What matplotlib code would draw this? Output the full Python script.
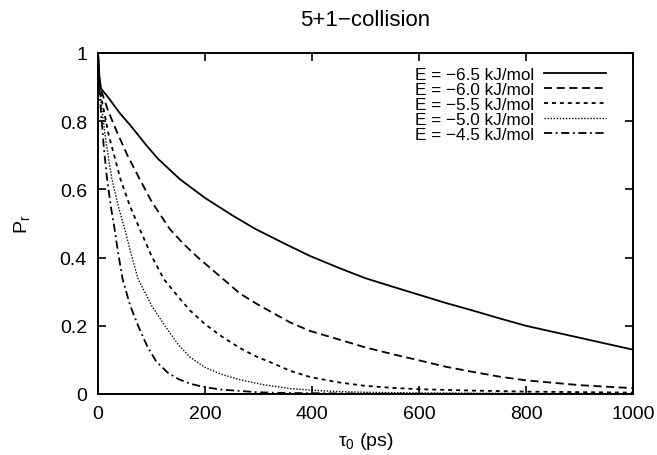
import matplotlib
matplotlib.use("Agg")
import matplotlib.pyplot as plt

plt.rcParams['font.family'] = ['Liberation Sans', 'DejaVu Sans']
plt.rcParams['mathtext.fontset'] = 'custom'
plt.rcParams['mathtext.rm'] = 'Liberation Sans'
plt.rcParams['mathtext.it'] = 'Liberation Sans:italic'

# tau_0 (ps) and P_r for each energy
x_65 = [0, 3, 6, 19, 40, 62, 90, 112, 153, 200, 250, 293, 350, 396, 450, 499, 550, 602, 650, 700, 750, 800, 900, 1000]
p_65 = [1.0, 0.92, 0.895, 0.87, 0.825, 0.785, 0.73, 0.69, 0.63, 0.575, 0.525, 0.485, 0.44, 0.405, 0.37, 0.34, 0.315, 0.29, 0.267, 0.245, 0.222, 0.20, 0.165, 0.13]

x_60 = [0, 3, 6, 19, 35, 55, 78, 100, 134, 160, 187, 234, 265, 297, 330, 359, 396, 450, 499, 550, 602, 650, 700, 750, 800, 900, 1000]
p_60 = [1.0, 0.92, 0.89, 0.83, 0.77, 0.70, 0.63, 0.565, 0.484, 0.44, 0.40, 0.337, 0.295, 0.264, 0.235, 0.21, 0.185, 0.16, 0.137, 0.117, 0.098, 0.08, 0.065, 0.051, 0.04, 0.026, 0.017]

x_55 = [0, 3, 6, 20, 42, 60, 78, 100, 123, 150, 172, 200, 230, 265, 293, 330, 359, 396, 450, 499, 550, 602, 700, 800, 1000]
p_55 = [1.0, 0.91, 0.87, 0.76, 0.63, 0.55, 0.484, 0.405, 0.337, 0.285, 0.245, 0.205, 0.17, 0.135, 0.112, 0.088, 0.068, 0.05, 0.034, 0.024, 0.018, 0.014, 0.01, 0.007, 0.004]

x_50 = [0, 3, 6, 15, 26, 38, 50, 62, 75, 100, 125, 150, 172, 200, 230, 265, 310, 359, 400, 450, 500, 600, 800, 1000]
p_50 = [1.0, 0.90, 0.85, 0.74, 0.63, 0.55, 0.484, 0.41, 0.337, 0.26, 0.20, 0.145, 0.108, 0.078, 0.058, 0.042, 0.027, 0.016, 0.011, 0.007, 0.005, 0.003, 0.0015, 0.001]

x_45 = [0, 3, 6, 11, 17, 24, 31, 38, 46, 60, 75, 92, 109, 130, 150, 172, 200, 230, 265, 300, 350, 500, 1000]
p_45 = [1.0, 0.88, 0.82, 0.72, 0.63, 0.55, 0.484, 0.41, 0.337, 0.26, 0.20, 0.14, 0.095, 0.063, 0.044, 0.03, 0.02, 0.013, 0.009, 0.005, 0.003, 0.001, 0.0]

labels = ['E = \u22126.5 kJ/mol', 'E = \u22126.0 kJ/mol', 'E = \u22125.5 kJ/mol',
          'E = \u22125.0 kJ/mol', 'E = \u22124.5 kJ/mol']
x_ticks = [0, 200, 400, 600, 800, 1000]
y_ticks = [0, 0.2, 0.4, 0.6, 0.8, 1]
y_ticklabels = ['0', '0.2', '0.4', '0.6', '0.8', '1']

fig = plt.figure(figsize=(6.57, 4.56), dpi=100)
ax = fig.add_axes([98/657, 1-395/456, (633-98)/657, (395-54)/456])

lw = 1.3
ax.plot(x_65, p_65, color='black', lw=lw, ls='-', label=labels[0])
ax.plot(x_60, p_60, color='black', lw=lw, ls=(0, (4.5, 2.5)), label=labels[1])
ax.plot(x_55, p_55, color='black', lw=lw, ls=(0, (2.2, 2.2)), label=labels[2])
ax.plot(x_50, p_50, color='black', lw=1.0, ls=(0, (1, 1.2)), label=labels[3])
ax.plot(x_45, p_45, color='black', lw=lw, ls=(0, (4.5, 2, 1, 2)), label=labels[4])

ax.set_xlim(0, 1000)
ax.set_ylim(0, 1)
ax.set_xticks(x_ticks)
ax.set_yticks(y_ticks)
ax.set_yticklabels(y_ticklabels)
ax.tick_params(direction='in', length=6, width=1.2, top=True, right=True,
               labelsize=14, pad=8)
for s in ax.spines.values():
    s.set_linewidth(1.4)

ax.set_title('5+1\u2212collision', fontsize=16, pad=20)
ax.set_xlabel(r'$\mathregular{\tau_0}$ (ps)', fontsize=14, labelpad=6)
ax.set_ylabel(r'P$_\mathregular{r}$', fontsize=14, labelpad=20)

leg = ax.legend(loc='upper right', frameon=False, markerfirst=False,
                fontsize=12.3, handlelength=3.6, handletextpad=0.6,
                labelspacing=0.0, borderaxespad=0.4, bbox_to_anchor=(0.975, 1.0))

fig.savefig('out.png', dpi=100)
